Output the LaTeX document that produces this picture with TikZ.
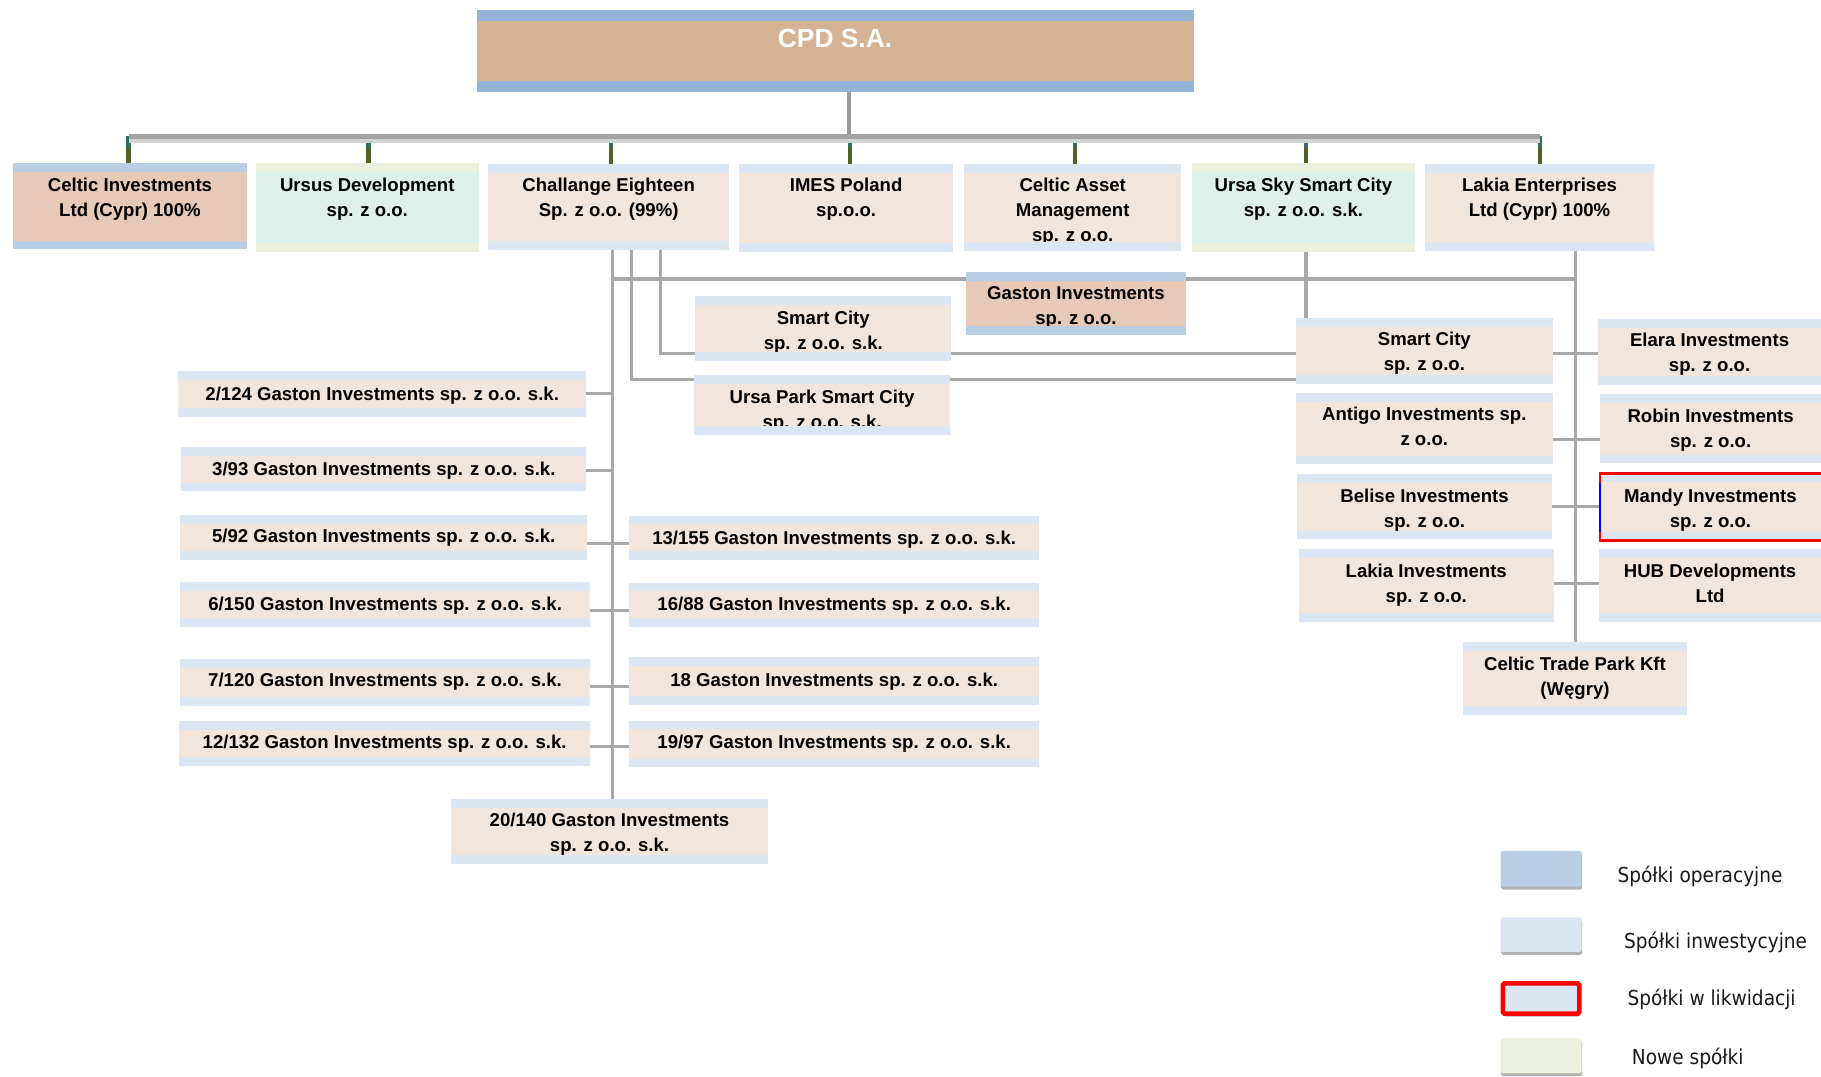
\documentclass[tikz,border=0pt]{standalone}
\usepackage{fontspec}
\setmainfont{Liberation Sans}
\newfontfamily\legfont[FakeStretch=0.9]{DejaVu Sans}
\usetikzlibrary{backgrounds,shadows}
\definecolor{cpdmain}{HTML}{D5B294}
\definecolor{cpdstrip}{HTML}{95B3D7}
\definecolor{opmain}{HTML}{E6CAB7}
\definecolor{opstrip}{HTML}{B9CDE5}
\definecolor{invmain}{HTML}{F2E5DC}
\definecolor{invstrip}{HTML}{DCE6F2}
\definecolor{newmain}{HTML}{DEF0EA}
\definecolor{newstrip}{HTML}{EBF1DE}
\definecolor{linegrey}{HTML}{A8A8A8}
\definecolor{bargrey}{HTML}{A4A4A4}
\definecolor{barlight}{HTML}{D2D2D2}
\definecolor{dropolive}{HTML}{4F6228}
\definecolor{dropteal}{HTML}{2F6E64}
\definecolor{cpdvert}{HTML}{9A9A9A}
\definecolor{mandyred}{HTML}{FF0000}
\definecolor{mandyblue}{HTML}{0000FF}
\newcommand\orgbox[8]{%
  \node[orgshape, fill=#2main, minimum width={(#5)-(#3)}, minimum height={(#6)-(#4)}] (#1) at ({((#3)+(#5))/2},{((#4)+(#6))/2}) {};
  \node[boxtext] (#1t) at ({((#3)+(#5))/2},{(#7)-6}) {#8};
  \fill[#2strip] (#1.north west) rectangle ([yshift=-7.5pt]#1.north east);
  \fill[#2strip] (#1.south west) rectangle ([yshift=7.5pt]#1.south east);
}
\begin{document}
\begin{tikzpicture}[x=1pt,y=-1pt,
  orgshape/.style={rectangle, inner sep=0pt, outer sep=0pt, draw=none},
  boxtext/.style={anchor=north, inner sep=0pt, align=center, font=\bfseries\fontsize{16}{21.7}\selectfont, text=black},
  cpdtext/.style={inner sep=0pt, font=\bfseries\fontsize{22.7}{26}\selectfont, text=white},
  conn/.style={draw=linegrey, line width=2.6pt},
  connthick/.style={draw=linegrey, line width=3.8pt},
  barline/.style={draw=bargrey, line width=4.5pt},
  barshadow/.style={draw=barlight, line width=3.5pt},
  dropline/.style={draw=dropolive, line width=3.6pt},
  droptop/.style={draw=dropteal, line width=3.6pt},
  cpdline/.style={draw=cpdvert, line width=3.6pt},
  legsw/.style={rectangle, inner sep=0pt, rounded corners=1.5pt, drop shadow={shadow xshift=0.5pt, shadow yshift=-2.5pt, opacity=0.3, fill=black}},
  legtext/.style={anchor=base west, inner sep=0pt, font=\legfont\fontsize{17.75}{20}\selectfont, text=black!90}
]
\useasboundingbox (0,0) rectangle (1568,927);

% CPD
\node[orgshape, fill=cpdmain, minimum width=617.7, minimum height=70.4] (cpd) at (719.55,43.8) {};
\fill[cpdstrip] (cpd.north west) rectangle ([yshift=-9.5pt]cpd.north east);
\fill[cpdstrip] (cpd.south west) rectangle ([yshift=9.3pt]cpd.south east);
\node[cpdtext] (cpdt) at (719,33.3) {CPD S.A.};

% top row
\orgbox{celtic}{op}{11.1}{140.6}{212.7}{214.7}{158.7}{Celtic Investments\\Ltd (Cypr) 100\%}
\orgbox{ursus}{new}{220.2}{140.6}{412.3}{216.7}{158.7}{Ursus Development\\sp. z o.o.}
\orgbox{chal}{inv}{420.2}{141.5}{628}{215.3}{158.7}{Challange Eighteen\\Sp. z o.o. (99\%)}
\orgbox{imes}{inv}{636.1}{141.2}{821}{216.7}{158.7}{IMES Poland\\sp.o.o.}
\orgbox{casset}{inv}{830.2}{141.2}{1017.2}{215.8}{158.7}{Celtic Asset\\Management\\sp. z o.o.}
\orgbox{ursasky}{new}{1026.3}{140.6}{1218.4}{216.7}{158.7}{Ursa Sky Smart City\\sp. z o.o. s.k.}
\orgbox{lakiaE}{inv}{1227}{141.2}{1424.2}{215.8}{158.7}{Lakia Enterprises\\Ltd (Cypr) 100\%}

% middle
\orgbox{gaston}{op}{831.9}{234.2}{1021}{288.2}{252.6}{Gaston Investments\\sp. z o.o.}
\orgbox{sca}{inv}{598.6}{254.9}{819.2}{310.6}{273.2}{Smart City\\sp. z o.o. s.k.}
\orgbox{upark}{inv}{597.8}{322.9}{818}{374.3}{341.5}{Ursa Park Smart City\\sp. z o.o. s.k.}

% right group
\orgbox{scb}{inv}{1116}{274.1}{1336.9}{330.6}{291.9}{Smart City\\sp. z o.o.}
\orgbox{antigo}{inv}{1116}{338.7}{1336.8}{399.8}{356.5}{Antigo Investments sp.\\z o.o.}
\orgbox{belise}{inv}{1117}{408.4}{1336.2}{464.4}{426.8}{Belise Investments\\sp. z o.o.}
\orgbox{lakiaI}{inv}{1118.5}{473}{1337.7}{535.3}{491.7}{Lakia Investments\\sp. z o.o.}
\orgbox{elara}{inv}{1376.1}{275}{1568}{331.5}{292.2}{Elara Investments\\sp. z o.o.}
\orgbox{robin}{inv}{1377.9}{339.5}{1568}{398.9}{358.2}{Robin Investments\\sp. z o.o.}
\orgbox{mandy}{inv}{1377.6}{407.5}{1568}{465.3}{426.8}{Mandy Investments\\sp. z o.o.}
\orgbox{hub}{inv}{1377}{473}{1568}{535.3}{491.7}{HUB Developments\\Ltd}
\orgbox{ctp}{inv}{1259.6}{553}{1452.7}{615.6}{571.7}{Celtic Trade Park Kft\\(Węgry)}
\draw[mandyred, line width=2.2pt] (mandy.north east) -- (mandy.north west) -- (mandy.south west) -- (mandy.south east);
\draw[mandyblue, line width=2.2pt] ([yshift=-8.5pt]mandy.north west) -- ([yshift=7.5pt]mandy.south west);

% Gaston list
\orgbox{gA}{inv}{153.4}{319.4}{504.8}{358.8}{338.7}{2/124 Gaston Investments sp. z o.o. s.k.}
\orgbox{gB}{inv}{156}{385}{505}{423}{404}{3/93 Gaston Investments sp. z o.o. s.k.}
\orgbox{gC}{inv}{155}{443.4}{505.7}{482}{461.5}{5/92 Gaston Investments sp. z o.o. s.k.}
\orgbox{gD}{inv}{155}{501}{508.3}{539.6}{519.5}{6/150 Gaston Investments sp. z o.o. s.k.}
\orgbox{gE}{inv}{155}{567.4}{508}{607.6}{585.5}{7/120 Gaston Investments sp. z o.o. s.k.}
\orgbox{gF}{inv}{154.4}{620.8}{508}{659.3}{638.6}{12/132 Gaston Investments sp. z o.o. s.k.}
\orgbox{gG}{inv}{541.9}{444}{894.7}{482}{462.7}{13/155 Gaston Investments sp. z o.o. s.k.}
\orgbox{gH}{inv}{541.9}{501.7}{894.7}{539.6}{520.3}{16/88 Gaston Investments sp. z o.o. s.k.}
\orgbox{gI}{inv}{541.9}{565.7}{894.7}{607}{585.5}{18 Gaston Investments sp. z o.o. s.k.}
\orgbox{gJ}{inv}{541.9}{620.5}{894.7}{660.7}{638.8}{19/97 Gaston Investments sp. z o.o. s.k.}
\orgbox{gK}{inv}{388.2}{688}{661.5}{743.7}{706}{20/140 Gaston Investments\\sp. z o.o. s.k.}

% legend
\node[legsw, fill=opstrip, minimum width=69.8, minimum height=30.8] (leg1) at (1327,748.1) {};
\node[legsw, fill=invstrip, minimum width=69.8, minimum height=29.9] (leg2) at (1327,804.75) {};
\node[legsw, fill=invstrip, draw=mandyred, line width=4pt, minimum width=65.8, minimum height=26.1] (leg3) at (1327,859.75) {};
\node[legsw, fill=newstrip, minimum width=69.8, minimum height=30.1] (leg4) at (1327,909.05) {};
\node[legtext] (leg1t) at (1392.6,760) {Spółki operacyjne};
\node[legtext] (leg2t) at (1398.3,816.5) {Spółki inwestycyjne};
\node[legtext] (leg3t) at (1401.2,866) {Spółki w likwidacji};
\node[legtext] (leg4t) at (1405,917) {Nowe spółki};

% connectors
\coordinate (barL) at (110.7,117.3);
\coordinate (barR) at (1326.4,117.3);
\coordinate (cpdtap) at (731.2,117.3);
\coordinate (trA) at (527,0);
\coordinate (trB) at (543.5,0);
\coordinate (trC) at (569,0);
\coordinate (ltr) at (1357,0);
\coordinate (hy) at (0,240.3);
\coordinate (yB) at (0,326.8);
\coordinate (yC) at (0,304.6);

\begin{pgfonlayer}{background}
\fill[white] (0,0) rectangle (1568,927);
\draw[cpdline] (cpdtap |- cpd.south) -- (cpdtap);
\foreach \b/\dx in {celtic/-1.2,ursus/1.1,chal/1.9,imes/3.5,casset/1.9,ursasky/2,lakiaE/0.4} {
  \draw[dropline] ([xshift=\dx pt]\b.north) -- ([xshift=\dx pt]\b.north |- barL);
  \draw[droptop] ([xshift=\dx pt]\b.north |- barL) -- ++(0,9.5);
}
\draw[barshadow] ([yshift=-4pt]barL) -- ([yshift=-4pt]barR);
\draw[barline] (barL) -- (barR);

\draw[conn] (chal.south -| trA) -- (gK.north -| trA);
\draw[connthick] (trA |- hy) -- (gaston.west |- hy);
\draw[connthick] (gaston.east |- hy) -- (ltr |- hy);
\draw[conn] (chal.south -| trB) |- (scb.west |- yB);
\draw[conn] (chal.south -| trC) |- (scb.west |- yC);
\draw[connthick] ([xshift=2pt]ursasky.south) -- ([xshift=2pt]ursasky.south |- scb.north);
\draw[conn] (lakiaE.south -| ltr) -- (ctp.north -| ltr);

\draw[conn] ([yshift=-2pt]scb.east) -- ([yshift=-2pt]scb.east -| elara.west);
\draw[conn] ([yshift=-9.6pt]antigo.east) -- ([yshift=-9.6pt]antigo.east -| robin.west);
\draw[conn] (belise.east) -- (belise.east -| mandy.west);
\draw[conn] ([yshift=1.4pt]lakiaI.east) -- ([yshift=1.4pt]lakiaI.east -| hub.west);

\draw[conn] (gA.east) -- (gA.east -| trA);
\draw[conn] ([yshift=-1pt]gB.east) -- ([yshift=-1pt]gB.east -| trA);
\draw[conn] ([yshift=-5.7pt]gC.east) -- ([yshift=-5.7pt]gC.east -| gG.west);
\draw[conn] ([yshift=-5pt]gD.east) -- ([yshift=-5pt]gD.east -| gH.west);
\draw[conn] ([yshift=-4pt]gE.east) -- ([yshift=-4pt]gE.east -| gI.west);
\draw[conn] ([yshift=-3pt]gF.east) -- ([yshift=-3pt]gF.east -| gJ.west);
\end{pgfonlayer}
\end{tikzpicture}
\end{document}
